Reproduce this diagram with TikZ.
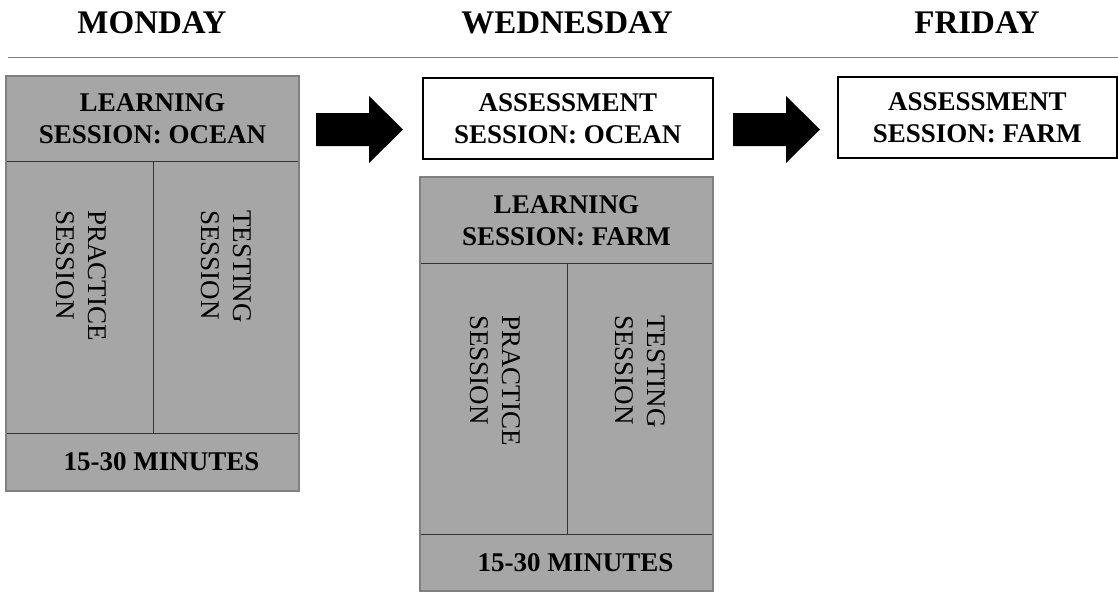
\documentclass[tikz,border=0pt]{standalone}
\usepackage{fontspec}
\setmainfont{Liberation Serif}
\usetikzlibrary{positioning,calc}
\definecolor{cellgray}{HTML}{A6A6A6}
\definecolor{edgegray}{HTML}{808080}

\begin{document}
\begin{tikzpicture}[
  x=1pt, y=-1pt,
  day/.style={anchor=base, font=\fontsize{33}{36}\selectfont\bfseries},
  cell/.style={draw=black!80, fill=cellgray, line width=1pt, inner sep=0pt, anchor=north west},
  title/.style={align=center, font=\fontsize{27}{32}\selectfont\bfseries},
  vtext/.style={rotate=-90, anchor=west, align=left, inner sep=0pt, font=\fontsize{27}{32}\selectfont},
  assess/.style={draw, line width=1.6pt, minimum height=81pt, inner sep=0pt, anchor=north west, align=center, font=\fontsize{27}{32}\selectfont\bfseries},
  outline/.style={draw=edgegray, line width=2pt}
]
  \useasboundingbox (0,0) rectangle (1118,592);

  % days
  \node[day] (mon) at (152,33) {MONDAY};
  \node[day] (wed) at (567,33) {WEDNESDAY};
  \node[day] (fri) at (977,33) {FRIDAY};
  \draw[edgegray, line width=1pt] (8,57) -- (1118,57);

  % monday block
  \node[cell, title, minimum width=292pt, minimum height=85pt] (monhead) at (6,76) {LEARNING\\SESSION: OCEAN};
  \node[cell, minimum width=147pt, minimum height=272pt] (monprac) at (6,161) {};
  \node[cell, minimum width=145pt, minimum height=272pt] (montest) at (153,161) {};
  \node[cell, title, minimum width=292pt, minimum height=57pt] (montime) at (6,433) {\hspace*{18pt}15-30 MINUTES};
  \draw[outline] (monhead.north west) rectangle (montime.south east);
  \node[vtext] (monpractxt) at ([xshift=1pt,yshift=-49pt]monprac.north) {PRACTICE\\SESSION};
  \node[vtext] (montesttxt) at ([yshift=-49pt]montest.north) {TESTING\\SESSION};

  % wednesday
  \node[assess, minimum width=290pt] (oceanassess) at (422,77) {ASSESSMENT\\SESSION: OCEAN};
  \node[cell, title, minimum width=292pt, minimum height=86pt] (wedhead) at (420,177) {LEARNING\\SESSION: FARM};
  \node[cell, minimum width=147pt, minimum height=271pt] (wedprac) at (420,263) {};
  \node[cell, minimum width=145pt, minimum height=271pt] (wedtest) at (567,263) {};
  \node[cell, title, minimum width=292pt, minimum height=56pt] (wedtime) at (420,534) {\hspace*{18pt}15-30 MINUTES};
  \draw[outline] (wedhead.north west) rectangle (wedtime.south east);
  \node[vtext] (wedpractxt) at ([xshift=1pt,yshift=-52pt]wedprac.north) {PRACTICE\\SESSION};
  \node[vtext] (wedtesttxt) at ([yshift=-52pt]wedtest.north) {TESTING\\SESSION};

  % friday
  \node[assess, minimum width=279pt] (farmassess) at (837,76) {ASSESSMENT\\SESSION: FARM};

  % block arrows
  \foreach \x in {316,733}
    \fill (\x,113) -- ++(53,0) -- ++(0,-17) -- ++(34,33.5) -- ++(-34,33.5) -- ++(0,-17) -- ++(-53,0) -- cycle;
\end{tikzpicture}
\end{document}
